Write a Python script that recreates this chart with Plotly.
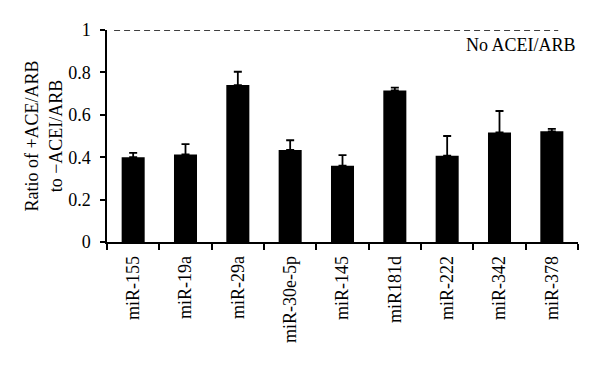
import plotly.graph_objects as go

categories = ["miR-155", "miR-19a", "miR-29a", "miR-30e-5p", "miR-145",
              "miR181d", "miR-222", "miR-342", "miR-378"]
values = [0.40, 0.413, 0.74, 0.434, 0.36, 0.715, 0.407, 0.517, 0.522]
err_upper = [0.02, 0.049, 0.063, 0.046, 0.05, 0.013, 0.093, 0.101, 0.012]
y_ticks = [0, 0.2, 0.4, 0.6, 0.8, 1]
y_tick_labels = ["0", "0.2", "0.4", "0.6", "0.8", "1"]

font = "Liberation Serif"

fig = go.Figure()
fig.add_trace(go.Bar(
    x=categories, y=values,
    marker=dict(color="black", line=dict(width=0)),
    width=0.44,
    error_y=dict(type="data", symmetric=False, array=err_upper,
                 arrayminus=[0] * len(values),
                 color="black", thickness=1.8, width=4),
))

fig.add_shape(type="line", xref="paper", yref="y", x0=0.015, x1=0.958, y0=1, y1=1,
              line=dict(color="black", width=1.3, dash="6px,4px"))
fig.add_annotation(text="No ACEI/ARB", xref="paper", yref="y", x=1, y=1,
                   xanchor="right", yanchor="top", yshift=-3, showarrow=False,
                   font=dict(family=font, size=18, color="black"))

# page body has an 8px margin, so the figure is drawn 8px in from the corner
fig.update_layout(
    width=592, height=362,
    margin=dict(l=99, r=22, t=22, b=128),
    paper_bgcolor="white", plot_bgcolor="white",
    showlegend=False,
    font=dict(family=font, size=18, color="black"),
    bargap=0.56,
)
fig.update_xaxes(
    type="category", showline=True, linecolor="black", linewidth=1.5,
    ticks="outside", tickson="boundaries", ticklen=6, tickwidth=1.5,
    tickcolor="black", tickangle=-90, showgrid=False, automargin=False,
    ticklabelstandoff=5,
    tickfont=dict(family=font, size=18),
)
fig.update_yaxes(
    range=[0, 1], showline=True, linecolor="black", linewidth=1.5,
    ticks="outside", ticklen=5, tickwidth=1.5, tickcolor="black",
    tickvals=y_ticks, ticktext=y_tick_labels, showgrid=False, zeroline=False,
    automargin=False, ticklabelstandoff=6,
    tickfont=dict(family=font, size=18),
    title=dict(text="Ratio of +ACE/ARB<br>to \u2212ACEI/ARB", standoff=1,
               font=dict(family=font, size=18)),
)

fig.write_html("out.html")
